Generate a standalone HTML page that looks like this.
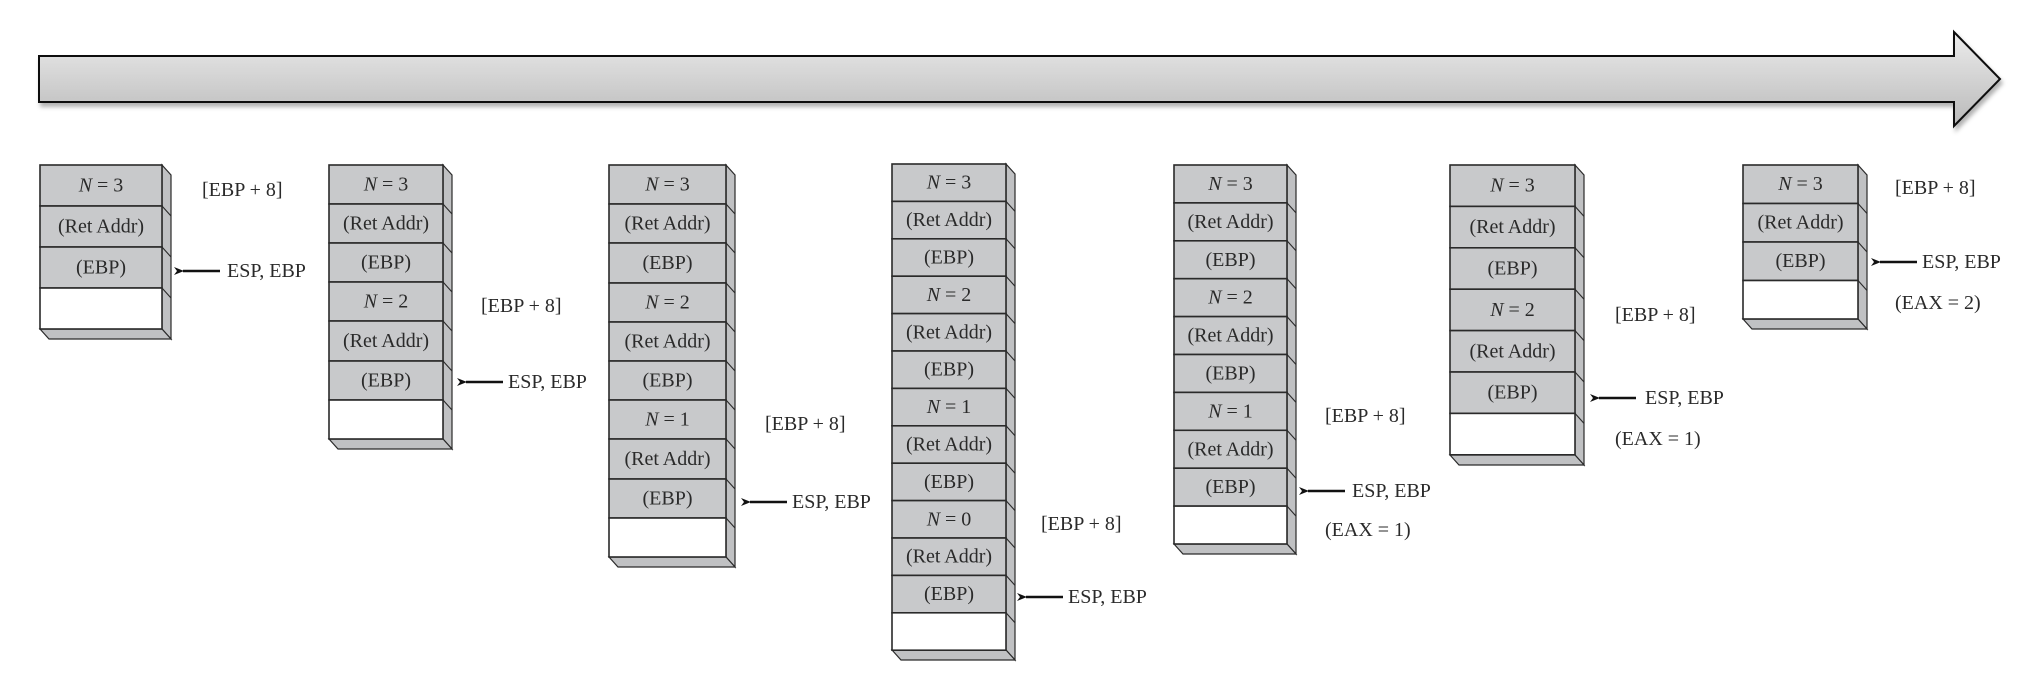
<!DOCTYPE html>
<html><head><meta charset="utf-8"><style>
html,body{margin:0;padding:0;background:#fff;}
svg{display:block;}
text{font-family:"Liberation Serif",serif;font-size:20px;fill:#2a2a2a;}
.c{text-anchor:middle;dominant-baseline:central;}
.l{dominant-baseline:central;}
.g{fill:#c8c9cb;stroke:#2a2a2a;stroke-width:1.6;}
.w{fill:#fff;stroke:#2a2a2a;stroke-width:1.6;}
.s{fill:#c0c1c3;stroke:#2a2a2a;stroke-width:1.2;}
.d{stroke:#2a2a2a;stroke-width:1.1;}
</style></head><body>
<svg width="2032" height="686" viewBox="0 0 2032 686" xmlns="http://www.w3.org/2000/svg">
<defs>
<linearGradient id="bar" x1="0" y1="0" x2="0" y2="1">
<stop offset="0" stop-color="#ececec"/><stop offset="1" stop-color="#b9b9b9"/>
</linearGradient>
<filter id="sh" x="-5%" y="-20%" width="110%" height="150%"><feDropShadow dx="2" dy="4" stdDeviation="2" flood-color="#000" flood-opacity="0.3"/></filter>
<marker id="ah" markerWidth="10" markerHeight="8" refX="1" refY="4" orient="auto" markerUnits="userSpaceOnUse"><path d="M10,0 L0,4 L10,8 L7,4 Z" fill="#111"/></marker>
</defs>
<path d="M39,56 L1954,56 L1954,32 L2000,79 L1954,126 L1954,102 L39,102 Z" fill="url(#bar)" stroke="#111" stroke-width="2" filter="url(#sh)"/>

<!-- generic stack drawing: side + bottom faces then cells -->
<!-- S1 x40 w122 top165 h41 -->
<g>
<polygon class="s" points="162,165 171,175 171,339 162,329"/>
<polygon class="s" points="40,329 49,339 171,339 162,329"/>
<line class="d" x1="162" y1="206" x2="171" y2="216"/><line class="d" x1="162" y1="247" x2="171" y2="257"/><line class="d" x1="162" y1="288" x2="171" y2="298"/>
<rect class="g" x="40" y="165" width="122" height="41"/><text class="c" x="101" y="185.5"><tspan font-style="italic">N</tspan> = 3</text>
<rect class="g" x="40" y="206" width="122" height="41"/><text class="c" x="101" y="226.5">(Ret Addr)</text>
<rect class="g" x="40" y="247" width="122" height="41"/><text class="c" x="101" y="267.5">(EBP)</text>
<rect class="w" x="40" y="288" width="122" height="41"/>
</g>
<text class="l" x="202" y="190">[EBP + 8]</text>
<line x1="220" y1="271" x2="183" y2="271" stroke="#111" stroke-width="2.5" marker-end="url(#ah)"/>
<text class="l" x="227" y="271">ESP, EBP</text>

<!-- S2 x329 w114 top165 h39.1 7 rows -->
<g>
<polygon class="s" points="443,165 452,175 452,449 443,439"/>
<polygon class="s" points="329,439 338,449 452,449 443,439"/>
<line class="d" x1="443" y1="204" x2="452" y2="214"/><line class="d" x1="443" y1="243" x2="452" y2="253"/><line class="d" x1="443" y1="282" x2="452" y2="292"/><line class="d" x1="443" y1="321" x2="452" y2="331"/><line class="d" x1="443" y1="361" x2="452" y2="371"/><line class="d" x1="443" y1="400" x2="452" y2="410"/>
<rect class="g" x="329" y="165" width="114" height="39"/><text class="c" x="386" y="184.5"><tspan font-style="italic">N</tspan> = 3</text>
<rect class="g" x="329" y="204" width="114" height="39"/><text class="c" x="386" y="223.5">(Ret Addr)</text>
<rect class="g" x="329" y="243" width="114" height="39"/><text class="c" x="386" y="262.5">(EBP)</text>
<rect class="g" x="329" y="282" width="114" height="39"/><text class="c" x="386" y="301.5"><tspan font-style="italic">N</tspan> = 2</text>
<rect class="g" x="329" y="321" width="114" height="40"/><text class="c" x="386" y="341">(Ret Addr)</text>
<rect class="g" x="329" y="361" width="114" height="39"/><text class="c" x="386" y="380.5">(EBP)</text>
<rect class="w" x="329" y="400" width="114" height="39"/>
</g>
<text class="l" x="481" y="306">[EBP + 8]</text>
<line x1="503" y1="382" x2="466" y2="382" stroke="#111" stroke-width="2.5" marker-end="url(#ah)"/>
<text class="l" x="508" y="382">ESP, EBP</text>

<!-- S3 x609 w117 top165 h39.2 10 rows -->
<g>
<polygon class="s" points="726,165 735,175 735,567 726,557"/>
<polygon class="s" points="609,557 618,567 735,567 726,557"/>
<line class="d" x1="726" y1="204" x2="735" y2="214"/><line class="d" x1="726" y1="243" x2="735" y2="253"/><line class="d" x1="726" y1="283" x2="735" y2="293"/><line class="d" x1="726" y1="322" x2="735" y2="332"/><line class="d" x1="726" y1="361" x2="735" y2="371"/><line class="d" x1="726" y1="400" x2="735" y2="410"/><line class="d" x1="726" y1="439" x2="735" y2="449"/><line class="d" x1="726" y1="479" x2="735" y2="489"/><line class="d" x1="726" y1="518" x2="735" y2="528"/>
<rect class="g" x="609" y="165" width="117" height="39"/><text class="c" x="667.5" y="184.5"><tspan font-style="italic">N</tspan> = 3</text>
<rect class="g" x="609" y="204" width="117" height="39"/><text class="c" x="667.5" y="223.5">(Ret Addr)</text>
<rect class="g" x="609" y="243" width="117" height="40"/><text class="c" x="667.5" y="263">(EBP)</text>
<rect class="g" x="609" y="283" width="117" height="39"/><text class="c" x="667.5" y="302.5"><tspan font-style="italic">N</tspan> = 2</text>
<rect class="g" x="609" y="322" width="117" height="39"/><text class="c" x="667.5" y="341.5">(Ret Addr)</text>
<rect class="g" x="609" y="361" width="117" height="39"/><text class="c" x="667.5" y="380.5">(EBP)</text>
<rect class="g" x="609" y="400" width="117" height="39"/><text class="c" x="667.5" y="419.5"><tspan font-style="italic">N</tspan> = 1</text>
<rect class="g" x="609" y="439" width="117" height="40"/><text class="c" x="667.5" y="459">(Ret Addr)</text>
<rect class="g" x="609" y="479" width="117" height="39"/><text class="c" x="667.5" y="498.5">(EBP)</text>
<rect class="w" x="609" y="518" width="117" height="39"/>
</g>
<text class="l" x="765" y="424">[EBP + 8]</text>
<line x1="787" y1="502" x2="750" y2="502" stroke="#111" stroke-width="2.5" marker-end="url(#ah)"/>
<text class="l" x="792" y="502">ESP, EBP</text>

<!-- S4 x892 w114 top164 h37.4 13 rows -->
<g>
<polygon class="s" points="1006,164 1015,174 1015,660 1006,650"/>
<polygon class="s" points="892,650 901,660 1015,660 1006,650"/>
<line class="d" x1="1006" y1="201.4" x2="1015" y2="211.4"/><line class="d" x1="1006" y1="238.8" x2="1015" y2="248.8"/><line class="d" x1="1006" y1="276.2" x2="1015" y2="286.2"/><line class="d" x1="1006" y1="313.6" x2="1015" y2="323.6"/><line class="d" x1="1006" y1="351" x2="1015" y2="361"/><line class="d" x1="1006" y1="388.4" x2="1015" y2="398.4"/><line class="d" x1="1006" y1="425.8" x2="1015" y2="435.8"/><line class="d" x1="1006" y1="463.2" x2="1015" y2="473.2"/><line class="d" x1="1006" y1="500.6" x2="1015" y2="510.6"/><line class="d" x1="1006" y1="538" x2="1015" y2="548"/><line class="d" x1="1006" y1="575.4" x2="1015" y2="585.4"/><line class="d" x1="1006" y1="612.8" x2="1015" y2="622.8"/>
<rect class="g" x="892" y="164" width="114" height="37.4"/><text class="c" x="949" y="182.7"><tspan font-style="italic">N</tspan> = 3</text>
<rect class="g" x="892" y="201.4" width="114" height="37.4"/><text class="c" x="949" y="220.1">(Ret Addr)</text>
<rect class="g" x="892" y="238.8" width="114" height="37.4"/><text class="c" x="949" y="257.5">(EBP)</text>
<rect class="g" x="892" y="276.2" width="114" height="37.4"/><text class="c" x="949" y="294.9"><tspan font-style="italic">N</tspan> = 2</text>
<rect class="g" x="892" y="313.6" width="114" height="37.4"/><text class="c" x="949" y="332.3">(Ret Addr)</text>
<rect class="g" x="892" y="351" width="114" height="37.4"/><text class="c" x="949" y="369.7">(EBP)</text>
<rect class="g" x="892" y="388.4" width="114" height="37.4"/><text class="c" x="949" y="407.1"><tspan font-style="italic">N</tspan> = 1</text>
<rect class="g" x="892" y="425.8" width="114" height="37.4"/><text class="c" x="949" y="444.5">(Ret Addr)</text>
<rect class="g" x="892" y="463.2" width="114" height="37.4"/><text class="c" x="949" y="481.9">(EBP)</text>
<rect class="g" x="892" y="500.6" width="114" height="37.4"/><text class="c" x="949" y="519.3"><tspan font-style="italic">N</tspan> = 0</text>
<rect class="g" x="892" y="538" width="114" height="37.4"/><text class="c" x="949" y="556.7">(Ret Addr)</text>
<rect class="g" x="892" y="575.4" width="114" height="37.4"/><text class="c" x="949" y="594.1">(EBP)</text>
<rect class="w" x="892" y="612.8" width="114" height="37.4"/>
</g>
<text class="l" x="1041" y="524">[EBP + 8]</text>
<line x1="1063" y1="597" x2="1026" y2="597" stroke="#111" stroke-width="2.5" marker-end="url(#ah)"/>
<text class="l" x="1068" y="597">ESP, EBP</text>

<!-- S5 x1174 w113 top165 h37.9 10 rows -->
<g>
<polygon class="s" points="1287,165 1296,175 1296,554 1287,544"/>
<polygon class="s" points="1174,544 1183,554 1296,554 1287,544"/>
<line class="d" x1="1287" y1="202.9" x2="1296" y2="212.9"/><line class="d" x1="1287" y1="240.8" x2="1296" y2="250.8"/><line class="d" x1="1287" y1="278.7" x2="1296" y2="288.7"/><line class="d" x1="1287" y1="316.6" x2="1296" y2="326.6"/><line class="d" x1="1287" y1="354.5" x2="1296" y2="364.5"/><line class="d" x1="1287" y1="392.4" x2="1296" y2="402.4"/><line class="d" x1="1287" y1="430.3" x2="1296" y2="440.3"/><line class="d" x1="1287" y1="468.2" x2="1296" y2="478.2"/><line class="d" x1="1287" y1="506.1" x2="1296" y2="516.1"/>
<rect class="g" x="1174" y="165" width="113" height="37.9"/><text class="c" x="1230.5" y="184"><tspan font-style="italic">N</tspan> = 3</text>
<rect class="g" x="1174" y="202.9" width="113" height="37.9"/><text class="c" x="1230.5" y="221.9">(Ret Addr)</text>
<rect class="g" x="1174" y="240.8" width="113" height="37.9"/><text class="c" x="1230.5" y="259.8">(EBP)</text>
<rect class="g" x="1174" y="278.7" width="113" height="37.9"/><text class="c" x="1230.5" y="297.7"><tspan font-style="italic">N</tspan> = 2</text>
<rect class="g" x="1174" y="316.6" width="113" height="37.9"/><text class="c" x="1230.5" y="335.6">(Ret Addr)</text>
<rect class="g" x="1174" y="354.5" width="113" height="37.9"/><text class="c" x="1230.5" y="373.5">(EBP)</text>
<rect class="g" x="1174" y="392.4" width="113" height="37.9"/><text class="c" x="1230.5" y="411.4"><tspan font-style="italic">N</tspan> = 1</text>
<rect class="g" x="1174" y="430.3" width="113" height="37.9"/><text class="c" x="1230.5" y="449.3">(Ret Addr)</text>
<rect class="g" x="1174" y="468.2" width="113" height="37.9"/><text class="c" x="1230.5" y="487.2">(EBP)</text>
<rect class="w" x="1174" y="506.1" width="113" height="37.9"/>
</g>
<text class="l" x="1325" y="416">[EBP + 8]</text>
<line x1="1345" y1="491" x2="1308" y2="491" stroke="#111" stroke-width="2.5" marker-end="url(#ah)"/>
<text class="l" x="1352" y="491">ESP, EBP</text>
<text class="l" x="1325" y="530">(EAX = 1)</text>

<!-- S6 x1450 w125 top165 h41.4 7 rows -->
<g>
<polygon class="s" points="1575,165 1584,175 1584,465 1575,455"/>
<polygon class="s" points="1450,455 1459,465 1584,465 1575,455"/>
<line class="d" x1="1575" y1="206.4" x2="1584" y2="216.4"/><line class="d" x1="1575" y1="247.8" x2="1584" y2="257.8"/><line class="d" x1="1575" y1="289.2" x2="1584" y2="299.2"/><line class="d" x1="1575" y1="330.6" x2="1584" y2="340.6"/><line class="d" x1="1575" y1="372" x2="1584" y2="382"/><line class="d" x1="1575" y1="413.4" x2="1584" y2="423.4"/>
<rect class="g" x="1450" y="165" width="125" height="41.4"/><text class="c" x="1512.5" y="185.7"><tspan font-style="italic">N</tspan> = 3</text>
<rect class="g" x="1450" y="206.4" width="125" height="41.4"/><text class="c" x="1512.5" y="227.1">(Ret Addr)</text>
<rect class="g" x="1450" y="247.8" width="125" height="41.4"/><text class="c" x="1512.5" y="268.5">(EBP)</text>
<rect class="g" x="1450" y="289.2" width="125" height="41.4"/><text class="c" x="1512.5" y="309.9"><tspan font-style="italic">N</tspan> = 2</text>
<rect class="g" x="1450" y="330.6" width="125" height="41.4"/><text class="c" x="1512.5" y="351.3">(Ret Addr)</text>
<rect class="g" x="1450" y="372" width="125" height="41.4"/><text class="c" x="1512.5" y="392.7">(EBP)</text>
<rect class="w" x="1450" y="413.4" width="125" height="41.4"/>
</g>
<text class="l" x="1615" y="315">[EBP + 8]</text>
<line x1="1636" y1="398" x2="1599" y2="398" stroke="#111" stroke-width="2.5" marker-end="url(#ah)"/>
<text class="l" x="1645" y="398">ESP, EBP</text>
<text class="l" x="1615" y="439">(EAX = 1)</text>

<!-- S7 x1743 w115 top165 h38.5 4 rows -->
<g>
<polygon class="s" points="1858,165 1867,175 1867,329 1858,319"/>
<polygon class="s" points="1743,319 1752,329 1867,329 1858,319"/>
<line class="d" x1="1858" y1="203.5" x2="1867" y2="213.5"/><line class="d" x1="1858" y1="242" x2="1867" y2="252"/><line class="d" x1="1858" y1="280.5" x2="1867" y2="290.5"/>
<rect class="g" x="1743" y="165" width="115" height="38.5"/><text class="c" x="1800.5" y="184"><tspan font-style="italic">N</tspan> = 3</text>
<rect class="g" x="1743" y="203.5" width="115" height="38.5"/><text class="c" x="1800.5" y="222.5">(Ret Addr)</text>
<rect class="g" x="1743" y="242" width="115" height="38.5"/><text class="c" x="1800.5" y="261">(EBP)</text>
<rect class="w" x="1743" y="280.5" width="115" height="38.5"/>
</g>
<text class="l" x="1895" y="188">[EBP + 8]</text>
<line x1="1917" y1="262" x2="1880" y2="262" stroke="#111" stroke-width="2.5" marker-end="url(#ah)"/>
<text class="l" x="1922" y="262">ESP, EBP</text>
<text class="l" x="1895" y="303">(EAX = 2)</text>
</svg>
</body></html>
